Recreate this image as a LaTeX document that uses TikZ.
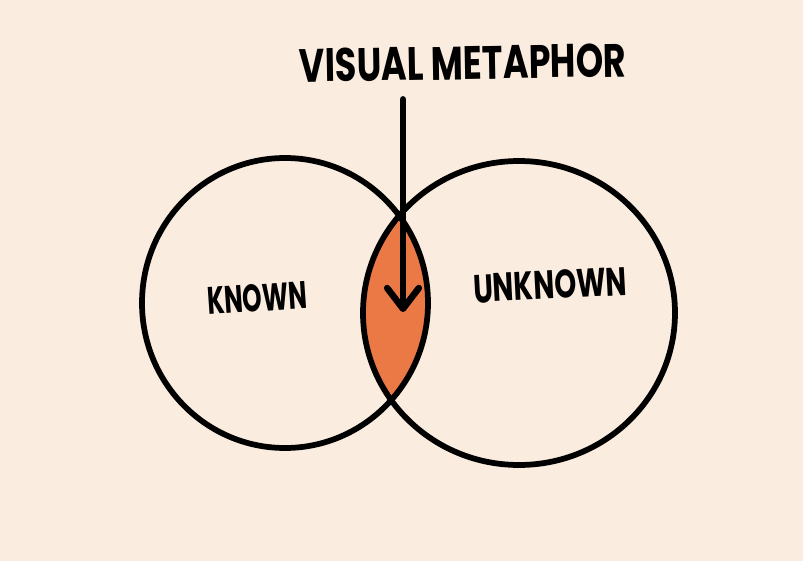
\documentclass[tikz,border=0pt]{standalone}
\usepackage{fontspec}
\usepackage{graphicx}
\usetikzlibrary{arrows.meta}
\newfontfamily\markerfont{Poppins}
\definecolor{paper}{RGB}{250,236,222}
\definecolor{lens}{RGB}{235,121,70}

\begin{document}
\begin{tikzpicture}[x=0.03cm, y=-0.03cm, line width=4.9pt,
    word/.style={font=\markerfont\bfseries, inner sep=0pt}]

   \fill[paper] (0,0) rectangle (803,561);

   % overlap of the two sets
   \begin{scope}
     \clip (285,303) ellipse [x radius=143, y radius=145];
     \fill[lens] (519,313) ellipse [x radius=156, y radius=152];
   \end{scope}
   \foreach \x/\y/\rx/\ry in {285/303/143/145, 519/313/156/152}
     \draw (\x,\y) ellipse [x radius=\rx, y radius=\ry];

   \foreach \x/\y/\w/\h/\r/\n/\t in {463/63/9.8/1.0/1/title/VISUAL METAPHOR,
                                     257/298/3/0.82/4/known/KNOWN,
                                     550/285/4.6/0.85/3/unknown/UNKNOWN}
     \node [word, rotate=\r] (\n) at (\x,\y) {\resizebox{\w cm}{\h cm}{\t}};

   \coordinate (tip) at (403,312);
   \draw [line width=5.6pt, line cap=round, shorten <=0.5cm,
          -{Straight Barb[length=0.62cm, width=0.95cm, round]}]
      (tip |- title.south) -- (tip);

\end{tikzpicture}
\end{document}
